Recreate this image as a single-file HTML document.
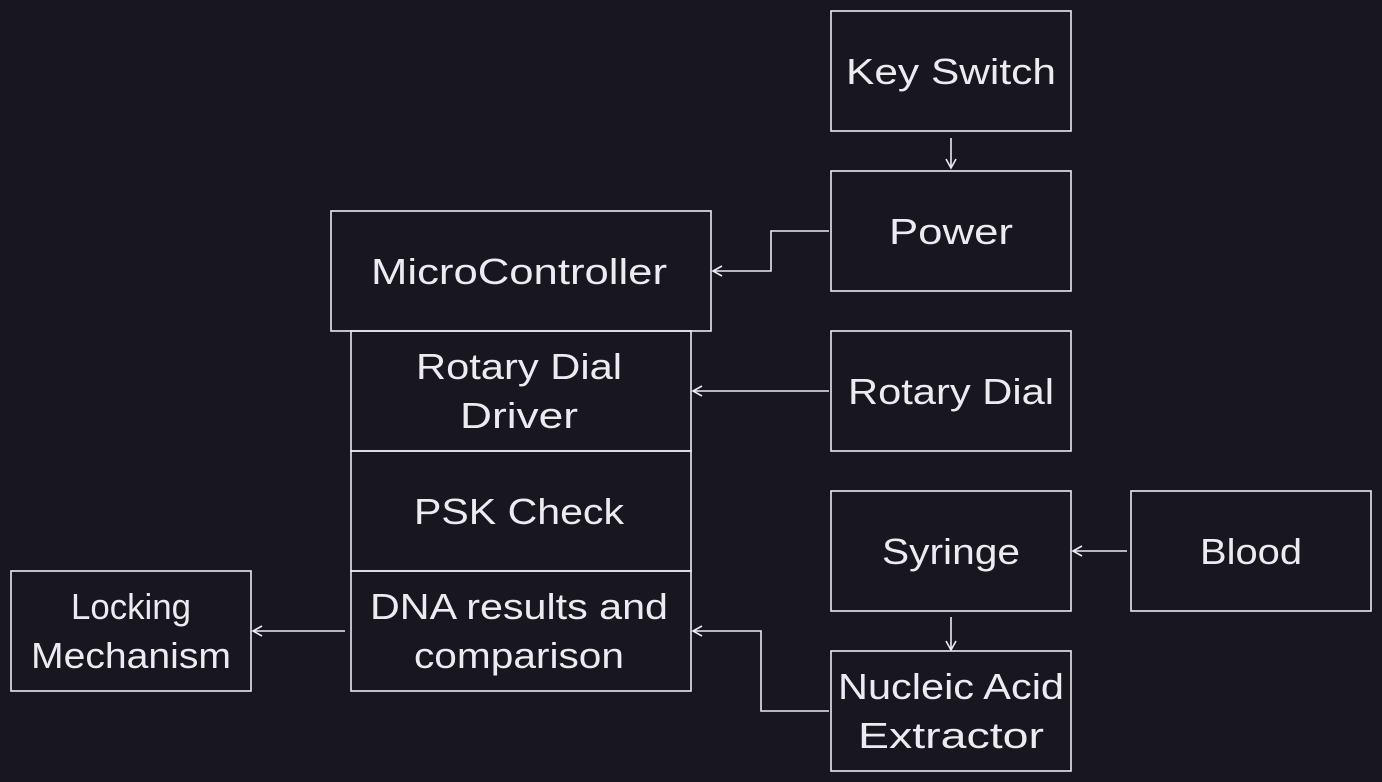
<!DOCTYPE html>
<html><head><meta charset="utf-8"><style>
html,body{margin:0;padding:0;background:#18161f;}
svg{display:block}
text{font-family:"Liberation Sans",sans-serif;font-size:36px;fill:#ecebf0;text-anchor:middle;}
</style></head><body>
<svg width="1382" height="782" viewBox="0 0 1382 782" xmlns="http://www.w3.org/2000/svg">
<defs><marker id="a" markerWidth="12" markerHeight="12" refX="10" refY="6" orient="auto" markerUnits="userSpaceOnUse"><path d="M1,1 L10,6 L1,11" fill="none" stroke="#ecebf0" stroke-width="1.6"/></marker></defs>
<g fill="none" stroke="#ecebf0" stroke-width="1.6">
<rect x="831" y="11" width="240" height="120"/>
<rect x="831" y="171" width="240" height="120"/>
<rect x="331" y="211" width="380" height="120"/>
<rect x="351" y="331" width="340" height="120"/>
<rect x="831" y="331" width="240" height="120"/>
<rect x="351" y="451" width="340" height="120"/>
<rect x="831" y="491" width="240" height="120"/>
<rect x="1131" y="491" width="240" height="120"/>
<rect x="351" y="571" width="340" height="120"/>
<rect x="11" y="571" width="240" height="120"/>
<rect x="831" y="651" width="240" height="120"/>
<path d="M951,138 L951,168" marker-end="url(#a)"/>
<path d="M829,231 L771,231 L771,271 L713,271" marker-end="url(#a)"/>
<path d="M829,391 L693,391" marker-end="url(#a)"/>
<path d="M1127,551 L1073,551" marker-end="url(#a)"/>
<path d="M951,617 L951,650" marker-end="url(#a)"/>
<path d="M829,711 L761,711 L761,631 L693,631" marker-end="url(#a)"/>
<path d="M345,631 L253,631" marker-end="url(#a)"/>
</g>
<text x="951" y="84" textLength="210" lengthAdjust="spacingAndGlyphs">Key Switch</text>
<text x="951" y="244" textLength="124" lengthAdjust="spacingAndGlyphs">Power</text>
<text x="519" y="284" textLength="296" lengthAdjust="spacingAndGlyphs">MicroController</text>
<text x="519" y="379" textLength="206" lengthAdjust="spacingAndGlyphs">Rotary Dial</text>
<text x="519" y="428" textLength="118" lengthAdjust="spacingAndGlyphs">Driver</text>
<text x="951" y="404" textLength="206" lengthAdjust="spacingAndGlyphs">Rotary Dial</text>
<text x="519" y="524" textLength="210" lengthAdjust="spacingAndGlyphs">PSK Check</text>
<text x="951" y="564" textLength="138" lengthAdjust="spacingAndGlyphs">Syringe</text>
<text x="1251" y="564" textLength="102" lengthAdjust="spacingAndGlyphs">Blood</text>
<text x="519" y="619" textLength="298" lengthAdjust="spacingAndGlyphs">DNA results and</text>
<text x="519" y="668" textLength="210" lengthAdjust="spacingAndGlyphs">comparison</text>
<text x="131" y="619" textLength="120" lengthAdjust="spacingAndGlyphs">Locking</text>
<text x="131" y="668" textLength="200" lengthAdjust="spacingAndGlyphs">Mechanism</text>
<text x="951" y="699" textLength="226" lengthAdjust="spacingAndGlyphs">Nucleic Acid</text>
<text x="951" y="748" textLength="186" lengthAdjust="spacingAndGlyphs">Extractor</text>
</svg>
</body></html>
